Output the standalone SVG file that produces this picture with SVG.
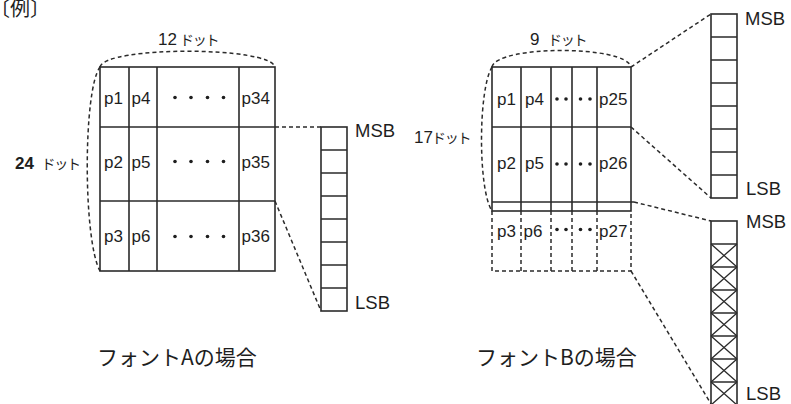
<svg xmlns="http://www.w3.org/2000/svg" width="791" height="404" viewBox="0 0 791 404">
<style>
.g{fill:none;stroke:#2b2b2b;stroke-width:1.6}
.thin{fill:none;stroke:#2b2b2b;stroke-width:1.3}
.d{fill:none;stroke:#2b2b2b;stroke-width:1.5;stroke-dasharray:4 3}
.t{font-family:"Liberation Sans",Arial,sans-serif;font-size:17px;fill:#1e1e1e}
.m{font-family:"Liberation Sans",Arial,sans-serif;font-size:18.5px;fill:#1e1e1e}
.j{font-family:"Noto Sans CJK JP",sans-serif;fill:#1e1e1e}
.k{font-family:"Noto Sans CJK JP",sans-serif;fill:#1e1e1e;font-size:14px;letter-spacing:-1.2px}
.dot{fill:#1e1e1e}
</style>
<defs>
<g id="xcell"><path class="thin" d="M0,0 L26,23 M26,0 L0,23"/></g>
</defs>
<rect width="791" height="404" fill="#fff"/>

<text class="j" x="-10" y="16" font-size="20">〔例〕</text>

<g id="fontA-grid">
<rect class="g" x="100" y="67" width="175" height="204"/>
<path class="g" d="M129,67 V271 M157,67 V271 M239,67 V271 M100,127 H275 M100,201 H275"/>
<text class="t" x="104" y="104">p1</text><text class="t" x="131.5" y="104">p4</text><text class="t" x="241.5" y="104">p34</text>
<text class="t" x="104" y="167.5">p2</text><text class="t" x="131.5" y="167.5">p5</text><text class="t" x="241.5" y="167.5">p35</text>
<text class="t" x="104" y="242">p3</text><text class="t" x="131.5" y="242">p6</text><text class="t" x="241.5" y="242">p36</text>
<g class="dot">
<circle cx="175" cy="97.5" r="1.8"/><circle cx="191" cy="97.5" r="1.8"/><circle cx="207.5" cy="97.5" r="1.8"/><circle cx="223.5" cy="97.5" r="1.8"/>
<circle cx="175" cy="161.5" r="1.8"/><circle cx="191" cy="161.5" r="1.8"/><circle cx="207.5" cy="161.5" r="1.8"/><circle cx="223.5" cy="161.5" r="1.8"/>
<circle cx="175" cy="236.5" r="1.8"/><circle cx="191" cy="236.5" r="1.8"/><circle cx="207.5" cy="236.5" r="1.8"/><circle cx="223.5" cy="236.5" r="1.8"/>
</g>
</g>

<g id="fontA-width-label">
<text x="158" y="44.5"><tspan class="t" font-size="17.5">12</tspan><tspan class="k" x="180">ドット</tspan></text>
</g>
<g id="fontA-height-label">
<text x="15" y="168.5"><tspan class="t" font-weight="bold" font-size="17">24</tspan><tspan class="k" x="41.5">ドット</tspan></text>
</g>

<g id="fontA-bits">
<rect class="g" x="321" y="127" width="26" height="184"/>
<path class="thin" d="M321,150 H347 M321,173 H347 M321,196 H347 M321,219 H347 M321,242 H347 M321,265 H347 M321,288 H347"/>
<text class="m" x="355" y="136.5">MSB</text>
<text class="m" x="355" y="309">LSB</text>
</g>

<g id="fontB-grid">
<rect class="g" x="492" y="67" width="139" height="144"/>
<path class="g" d="M521,67 V211 M551,67 V211 M572,67 V211 M597,67 V211 M492,127 H631 M492,202 H634"/>
<path class="d" d="M492,211 V271 H631 V211 M521,211 V271 M551,211 V271 M572,211 V271 M597,211 V271"/>
<text class="t" x="497" y="105">p1</text><text class="t" x="525" y="105">p4</text><text class="t" x="599" y="105">p25</text>
<text class="t" x="497" y="169">p2</text><text class="t" x="525" y="169">p5</text><text class="t" x="599" y="169">p26</text>
<text class="t" x="497" y="236.5">p3</text><text class="t" x="523.5" y="236.5">p6</text><text class="t" x="599" y="236.5">p27</text>
<g class="dot">
<circle cx="557" cy="99" r="1.8"/><circle cx="566" cy="99" r="1.8"/><circle cx="580.5" cy="99" r="1.8"/><circle cx="590" cy="99" r="1.8"/>
<circle cx="557" cy="164" r="1.8"/><circle cx="566" cy="164" r="1.8"/><circle cx="580.5" cy="164" r="1.8"/><circle cx="590" cy="164" r="1.8"/>
<circle cx="557" cy="229.5" r="1.8"/><circle cx="566" cy="229.5" r="1.8"/><circle cx="580.5" cy="229.5" r="1.8"/><circle cx="590" cy="229.5" r="1.8"/>
</g>
</g>

<g id="fontB-width-label">
<text x="530" y="45"><tspan class="t" font-size="17.5">9</tspan><tspan class="k" x="548">ドット</tspan></text>
</g>
<g id="fontB-height-label">
<text x="414" y="143"><tspan class="t" font-size="16">17</tspan><tspan class="k" x="432" font-size="13.5">ドット</tspan></text>
</g>

<g id="fontB-bits-upper">
<rect class="g" x="711" y="14" width="26" height="184"/>
<path class="thin" d="M711,37 H737 M711,60 H737 M711,83 H737 M711,106 H737 M711,129 H737 M711,152 H737 M711,175 H737"/>
<text class="m" x="745" y="25">MSB</text>
<text class="m" x="746" y="195">LSB</text>
</g>

<g id="fontB-bits-lower">
<rect class="g" x="711" y="221" width="26" height="184"/>
<path class="thin" d="M711,244 H737 M711,267 H737 M711,290 H737 M711,313 H737 M711,336 H737 M711,359 H737 M711,382 H737"/>
<use href="#xcell" x="711" y="244"/><use href="#xcell" x="711" y="267"/><use href="#xcell" x="711" y="290"/><use href="#xcell" x="711" y="313"/><use href="#xcell" x="711" y="336"/><use href="#xcell" x="711" y="359"/><use href="#xcell" x="711" y="382"/>
<text class="m" x="746" y="228">MSB</text>
<text class="m" x="746" y="400">LSB</text>
</g>

<g id="connectors">
<path class="d" d="M100,67 C105,46 270,46 275,67"/>
<path class="d" d="M100,67 C83,90 83,240 100,271"/>
<path class="d" d="M275,127 H321"/>
<path class="d" d="M275,201 L321,311"/>
<path class="d" d="M492,67 C497,45 626,45 631,67"/>
<path class="d" d="M492,67 C478,90 478,190 492,211"/>
<path class="d" d="M631,67 L711,14"/>
<path class="d" d="M631,127 L711,198"/>
<path class="d" d="M634,202 L711,221"/>
<path class="d" d="M631,271 L711,404"/>
</g>

<text class="j" x="97" y="364.5" font-size="21">フォントAの場合</text>
<text class="j" x="476" y="364.5" font-size="21">フォントBの場合</text>
</svg>
